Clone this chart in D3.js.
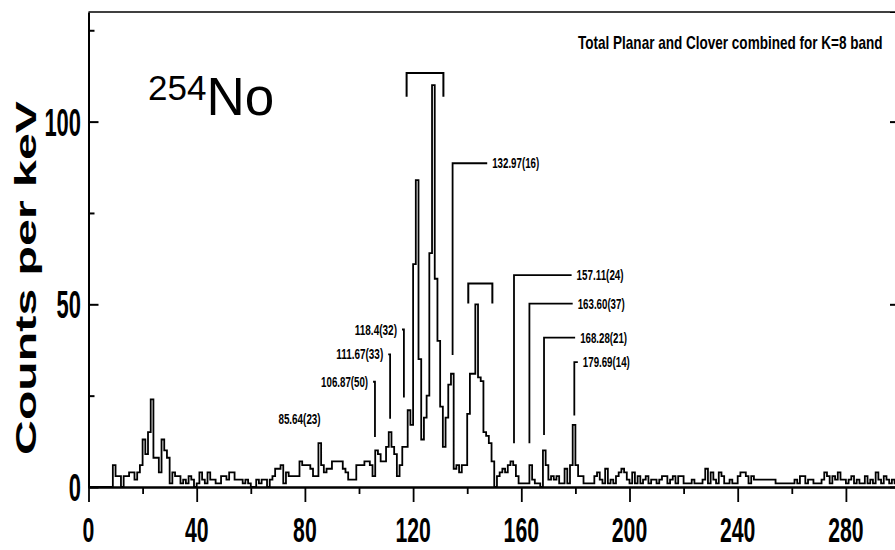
<!DOCTYPE html>
<meta charset="utf-8">
<style>

body {
  margin: 0;
  background: #fff;
}

svg {
  display: block;
}

.axis path, .axis line {
  stroke: #000;
}

text {
  fill: #000;
}

.narrow {
  font-family: "Liberation Sans Narrow", "Liberation Sans", Arial, sans-serif;
  font-weight: bold;
}

</style>
<body>
<svg id="chart"></svg>
<script src="https://d3js.org/d3.v7.min.js"></script>
<script>

var width = 895,
    height = 550;

// counts per 1 keV bin, bin i covers [i, i+1)
var counts = [
  0, 0, 0, 0, 0, 0, 0, 0, 0, 6,       // 0
  3, 3, 0, 3, 3, 4, 4, 2, 4, 6,       // 10
  13, 9, 15, 24, 8, 8, 4, 13, 10, 8,  // 20
  1, 4, 3, 3, 1, 2, 1, 3, 2, 0,       // 30
  1, 4, 2, 1, 4, 2, 2, 1, 1, 3,       // 40
  3, 2, 4, 4, 2, 2, 2, 1, 2, 1,       // 50
  0, 0, 2, 1, 2, 2, 0, 2, 3, 5,       // 60
  5, 6, 1, 4, 3, 3, 3, 3, 7, 6,       // 70
  6, 6, 5, 3, 3, 12, 6, 4, 5, 5,      // 80
  7, 7, 7, 7, 5, 4, 2, 2, 2, 6,       // 90
  6, 6, 7, 7, 6, 3, 10, 9, 7, 7,      // 100
  11, 15, 11, 9, 3, 6, 11, 11, 21, 17, // 110
  61, 84, 35, 13, 19, 25, 64, 110, 57, 40, // 120
  22, 11, 19, 28, 31, 5, 6, 4, 6, 6,  // 130
  20, 31, 31, 50, 30, 29, 15, 14, 12, 7, // 140
  0, 3, 4, 5, 4, 6, 7, 6, 3, 1,       // 150
  1, 1, 1, 6, 2, 1, 1, 0, 10, 6,      // 160
  2, 3, 2, 3, 1, 1, 5, 1, 6, 17,      // 170
  6, 3, 3, 1, 1, 1, 1, 3, 4, 2,       // 180
  1, 5, 1, 2, 1, 3, 4, 5, 4, 2,       // 190
  1, 4, 1, 3, 1, 2, 3, 1, 2, 2,       // 200
  1, 2, 3, 3, 1, 2, 3, 1, 3, 3,       // 210
  1, 1, 1, 2, 1, 1, 1, 2, 5, 1,       // 220
  4, 2, 1, 4, 3, 1, 1, 2, 1, 1,       // 230
  3, 4, 4, 3, 1, 3, 2, 2, 2, 2,       // 240
  2, 2, 2, 2, 1, 1, 1, 1, 1, 1,       // 250
  1, 2, 1, 3, 3, 1, 2, 2, 1, 1,       // 260
  1, 2, 4, 3, 1, 3, 2, 4, 2, 2,       // 270
  1, 2, 3, 1, 2, 1, 1, 3, 1, 2,       // 280
  1, 4, 2, 1, 3, 2, 1, 2, 1, 1        // 290
];

var xTicks = [0, 40, 80, 120, 160, 200, 240, 280],
    xMinor = [20, 60, 100, 140, 180, 220, 260, 300],
    yTicks = [0, 50, 100],
    yMinor = [25, 75, 125];

// leader lines: energy label, keV of the line, top / bottom in counts, keV where the arm ends
var leaders = [
  {label: "132.97(16)", at: 134.6, top: 88.6, bottom: 36.1, to: 147.4},
  {label: "157.11(24)", at: 157.3, top: 58.0, bottom: 12.0, to: 178.6},
  {label: "163.60(37)", at: 163.0, top: 50.2, bottom: 12.0, to: 179.0},
  {label: "168.28(21)", at: 168.4, top: 40.9, bottom: 14.2, to: 179.9},
  {label: "179.69(14)", at: 179.6, top: 34.2, bottom: 19.6, to: 180.9},
  {label: "118.4(32)", at: 116.6, top: 43.1, bottom: 24.5, to: 115.9},
  {label: "111.67(33)", at: 111.5, top: 36.3, bottom: 18.7, to: 110.8},
  {label: "106.87(50)", at: 105.9, top: 28.8, bottom: 13.7, to: 105.2}
];

var freeLabels = [
  {label: "85.64(23)", at: 70.2, y: 17.2}
];

var brackets = [
  {from: 117.6, to: 131.2, top: 113.3, foot: 106.8},
  {from: 140.4, to: 149.3, top: 55.7, foot: 50.2}
];

var x = d3.scaleLinear().domain([0, 300]).range([88.5, 900]),
    y = d3.scaleLinear().domain([0, 130]).range([487, 12]);

var svg = d3.select("#chart")
    .attr("width", width)
    .attr("height", height);

// squeeze a text sideways so it is w pixels long, anchored at (tx, ty)
function fit(sel, w, tx, ty, pre) {
  sel.each(function(d, i) {
    var n = this.getComputedTextLength(),
        ww = typeof w === "function" ? w(d, i) : w,
        px = typeof tx === "function" ? tx(d, i) : tx,
        py = typeof ty === "function" ? ty(d, i) : ty;
    d3.select(this).attr("transform",
        "translate(" + px + "," + py + ")" + (pre || "") + " scale(" + (ww / n) + ",1)");
  });
}

// frame top and right
svg.append("line")
    .attr("x1", x(0)).attr("x2", x(300))
    .attr("y1", y(130)).attr("y2", y(130))
    .attr("stroke", "#000").attr("stroke-width", 1.5);

svg.append("g")
    .attr("class", "axis")
    .attr("transform", "translate(" + x(300) + ",0)")
    .call(d3.axisLeft(y).tickValues(yTicks).tickSize(10).tickFormat(""))
    .call(function(g) { g.selectAll("line").attr("stroke-width", 2); });

// histogram
var pts = counts.map(function(c, i) { return [i, c]; });
pts.push([300, counts[counts.length - 1]]);

var line = d3.line()
    .curve(d3.curveStepAfter)
    .x(function(d) { return x(d[0]); })
    .y(function(d) { return y(d[1]); });

svg.append("path")
    .datum(pts)
    .attr("d", line)
    .attr("fill", "none")
    .attr("stroke", "#000")
    .attr("stroke-width", 1.8)
    .attr("stroke-linejoin", "miter");

// x axis
var gx = svg.append("g")
    .attr("class", "axis")
    .attr("transform", "translate(0," + y(0) + ")");

gx.call(d3.axisBottom(x).tickValues(xTicks).tickSize(15).tickSizeOuter(0).tickFormat(""));
gx.append("g").call(d3.axisBottom(x).tickValues(xMinor).tickSize(7).tickFormat(""))
    .select(".domain").remove();
gx.select(".domain").attr("stroke-width", 2.6);
gx.selectAll("line").attr("stroke-width", 1.8);

svg.append("g").selectAll("text")
    .data(xTicks)
  .enter().append("text")
    .attr("class", "narrow")
    .attr("font-size", 35)
    .attr("text-anchor", "middle")
    .text(function(d) { return d; })
    .call(fit, function(d) { return String(d).length * 11.8; },
        function(d) { return x(d); }, 542);

// y axis, ticks inward
var gy = svg.append("g")
    .attr("class", "axis")
    .attr("transform", "translate(" + x(0) + ",0)");

gy.call(d3.axisLeft(y).tickValues(yTicks).tickSize(-10).tickSizeOuter(0).tickFormat(""));
gy.append("g").call(d3.axisLeft(y).tickValues(yMinor).tickSize(-6).tickFormat(""))
    .select(".domain").remove();
gy.select(".domain").attr("stroke-width", 2);
gy.selectAll("line").attr("stroke-width", 2);

svg.append("g").selectAll("text")
    .data(yTicks)
  .enter().append("text")
    .attr("class", "narrow")
    .attr("font-size", 38)
    .attr("text-anchor", "end")
    .text(function(d) { return d; })
    .call(fit, function(d) { return String(d).length * 12.2; },
        81, function(d) { return y(d) + 14; });

svg.append("text")
    .attr("font-family", "Liberation Sans, Arial, sans-serif")
    .attr("font-weight", "bold")
    .attr("font-size", 30)
    .attr("text-anchor", "middle")
    .text("Counts per keV")
    .call(fit, 354, 36, 278, " rotate(-90)");

// titles
svg.append("text")
    .attr("class", "narrow")
    .attr("font-size", 18)
    .text("Total Planar and Clover combined for K=8 band")
    .call(fit, 305, 578, 49);

var nuc = svg.append("text")
    .attr("font-family", "Liberation Sans, Arial, sans-serif")
    .attr("x", 148)
    .attr("y", 100);
nuc.append("tspan").attr("font-size", 35).text("254");
nuc.append("tspan").attr("font-size", 53).attr("dy", 15).text("No");

// brackets
svg.append("g").selectAll("path")
    .data(brackets)
  .enter().append("path")
    .attr("fill", "none")
    .attr("stroke", "#000")
    .attr("stroke-width", 2)
    .attr("d", function(d) {
      return "M" + x(d.from) + "," + y(d.foot) + "V" + y(d.top) + "H" + x(d.to) + "V" + y(d.foot);
    });

// leader lines and labels
var lead = svg.append("g").selectAll("g")
    .data(leaders)
  .enter().append("g");

lead.append("path")
    .attr("fill", "none")
    .attr("stroke", "#000")
    .attr("stroke-width", 1.8)
    .attr("d", function(d) {
      return "M" + x(d.at) + "," + y(d.bottom) + "V" + y(d.top) + "H" + x(d.to);
    });

lead.append("text")
    .attr("class", "narrow")
    .attr("font-size", 15)
    .attr("text-anchor", function(d) { return d.to > d.at ? "start" : "end"; })
    .text(function(d) { return d.label; })
    .call(fit, function(d) { return d.label.length * 4.7; },
        function(d) { return d.to > d.at ? x(d.to) + 5 : x(d.to) - 5; },
        function(d) { return y(d.top) + 5; });

svg.append("g").selectAll("text")
    .data(freeLabels)
  .enter().append("text")
    .attr("class", "narrow")
    .attr("font-size", 15)
    .text(function(d) { return d.label; })
    .call(fit, function(d) { return d.label.length * 4.7; },
        function(d) { return x(d.at); }, function(d) { return y(d.y); });

</script>
